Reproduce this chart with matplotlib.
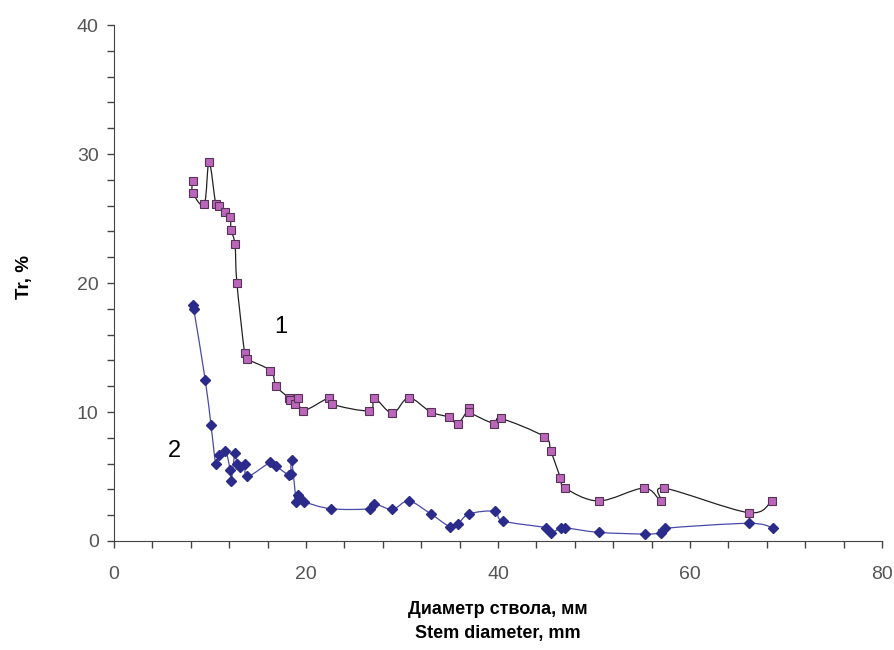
import numpy as np
import matplotlib
matplotlib.use("Agg")
import matplotlib.pyplot as plt
from matplotlib.path import Path
from matplotlib.patches import PathPatch

plt.rcParams['font.family'] = ['Liberation Sans', 'DejaVu Sans']

# curve 1 (squares)
x1 = [8.2, 8.2, 9.4, 9.9, 10.6, 10.9, 11.6, 12.1, 12.2, 12.6, 12.8, 13.6, 13.9,
      16.3, 16.9, 18.2, 18.3, 18.9, 19.2, 19.7, 22.4, 22.7, 26.6, 27.1, 29.0,
      30.7, 33.0, 34.9, 35.8, 37.0, 37.0, 39.6, 40.3, 44.8, 45.5, 46.5, 47.0,
      50.5, 55.2, 57.0, 57.3, 66.1, 68.5]
y1 = [27.9, 27.0, 26.1, 29.4, 26.1, 26.0, 25.5, 25.1, 24.1, 23.0, 20.0, 14.6, 14.1,
      13.2, 12.0, 11.1, 10.9, 10.6, 11.1, 10.1, 11.1, 10.6, 10.1, 11.1, 9.9,
      11.1, 10.0, 9.6, 9.1, 10.3, 10.0, 9.1, 9.5, 8.1, 7.0, 4.9, 4.1,
      3.1, 4.1, 3.1, 4.1, 2.2, 3.1]

# curve 2 (diamonds)
x2 = [8.2, 8.3, 9.5, 10.1, 10.6, 10.9, 11.6, 12.1, 12.2, 12.6, 12.8, 13.1, 13.6, 13.9,
      16.3, 16.9, 18.2, 18.4, 18.5, 19.0, 19.2, 19.3, 19.8, 22.6, 26.7, 27.1, 29.0,
      30.7, 33.0, 35.0, 35.8, 37.0, 39.7, 40.5, 45.0, 45.5, 46.6, 47.0,
      50.5, 55.3, 57.0, 57.4, 66.1, 68.6]
y2 = [18.3, 18.0, 12.5, 9.0, 6.0, 6.7, 7.0, 5.5, 4.65, 6.8, 6.0, 5.7, 6.0, 5.0,
      6.1, 5.8, 5.1, 5.2, 6.3, 3.05, 3.6, 3.4, 3.05, 2.5, 2.5, 2.9, 2.45,
      3.1, 2.1, 1.1, 1.3, 2.1, 2.3, 1.55, 1.03, 0.64, 1.03, 1.03,
      0.67, 0.54, 0.64, 0.98, 1.37, 1.03]


def smooth_path(x, y, k=1/6):
    # Catmull-Rom style smoothing like Excel "smoothed line"
    pts = np.column_stack([x, y])
    verts = [pts[0]]
    codes = [Path.MOVETO]
    n = len(pts)
    for i in range(n - 1):
        p0 = pts[i - 1] if i > 0 else pts[i]
        p1 = pts[i]
        p2 = pts[i + 1]
        p3 = pts[i + 2] if i + 2 < n else pts[i + 1]
        verts += [p1 + (p2 - p0) * k, p2 - (p3 - p1) * k, p2]
        codes += [Path.CURVE4] * 3
    return Path(verts, codes)


fig = plt.figure(figsize=(8.95, 6.5), dpi=100)
ax = fig.add_axes([0.1274, 0.1677, 0.858, 0.7938])

ax.add_patch(PathPatch(smooth_path(x1, y1), fill=False, edgecolor='#222222', lw=0.9))
ax.add_patch(PathPatch(smooth_path(x2, y2), fill=False, edgecolor='#4a4aa8', lw=0.9))
ax.plot(x1, y1, ls='none', marker='s', ms=6, mfc='#bb66bb', mec='#553355', mew=0.8)
ax.plot(x2, y2, ls='none', marker='D', ms=4.8, mfc='#2b2b8c', mec='#2b2b8c')

ax.text(17.4, 16.6, '1', fontsize=17, ha='center', va='center')
ax.text(6.25, 6.95, '2', fontsize=17, ha='center', va='center')

ax.set_xlim(0, 80)
ax.set_ylim(0, 40)
ax.set_xticks([0, 20, 40, 60, 80])
ax.set_xticks(np.arange(0, 81, 4), minor=True)
ax.set_yticks([0, 10, 20, 30, 40])
ax.set_yticks(np.arange(0, 41, 2), minor=True)
ax.tick_params(which='both', direction='out', color='#444444', width=1, length=5)
ax.tick_params(which='major', labelsize=14, labelcolor='#555555', pad=6)
ax.tick_params(axis='x', pad=13)
for s in ['top', 'right']:
    ax.spines[s].set_visible(False)
for s in ['left', 'bottom']:
    ax.spines[s].set_color('#444444')

ax.set_ylabel('Tr, %', fontsize=13.5, fontweight='bold', labelpad=28)
ax.yaxis.set_label_coords(-0.106, 0.511)
ax.set_xlabel('Диаметр ствола, мм\nStem diameter, mm', fontsize=13,
              fontweight='bold', labelpad=13, linespacing=1.5)

fig.savefig('out.png', dpi=100)
